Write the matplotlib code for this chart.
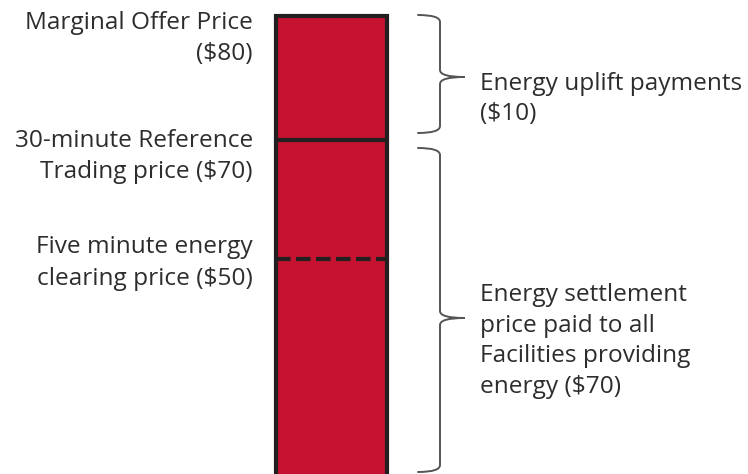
import numpy as np
import matplotlib
matplotlib.use("Agg")
import matplotlib.pyplot as plt
from matplotlib.path import Path
from matplotlib.patches import PathPatch

# ---- data ----
marginal_offer = 80
reference_price = 70
clearing_price = 50
uplift = marginal_offer - reference_price
settlement = reference_price

left_labels = ["Marginal Offer Price\n($80)",
               "30-minute Reference\nTrading price ($70)",
               "Five minute energy\nclearing price ($50)"]
right_labels = ["Energy uplift payments\n($10)",
                "Energy settlement\nprice paid to all\nFacilities providing\nenergy ($70)"]

# ---- schematic (non-linear) vertical scale: price -> pixel row ----
anchor_price = np.array([-10, 0, 50, 70, 80, 90], dtype=float)
anchor_px = np.array([524.2, 480, 259, 140, 16, -110], dtype=float)

def forward(v):
    return -np.interp(v, anchor_price, anchor_px)

def inverse(t):
    return np.interp(-np.asarray(t), anchor_px[::-1], anchor_price[::-1])

def shift(price, px):
    """price that lies px pixels below `price` on the schematic scale"""
    return float(inverse(forward(price) - px))

W, H = 748, 474
fig = plt.figure(figsize=(W / 100, H / 100), dpi=100)
ax = fig.add_axes([0, 0, 1, 1])
ax.set_yscale('function', functions=(forward, inverse))
ax.set_xlim(0, W)
ax.set_ylim(float(inverse(-H)), float(inverse(0)))
ax.axis('off')

red = '#C41230'
edge = '#231F20'
txt = '#2d2d2d'

# bar
ax.bar(331.5, marginal_offer, width=111, bottom=0, color=red,
       edgecolor=edge, linewidth=3, zorder=2)
# reference level line
ax.plot([276, 387], [reference_price, reference_price], color=edge, lw=3,
        solid_capstyle='butt', zorder=3)
# clearing price dashed line
ax.plot([276, 387], [clearing_price, clearing_price], color=edge, lw=3,
        dashes=(3.5, 1.3), dash_capstyle='butt', zorder=3)


def brace(y_top, y_bot, y_tip, x_end=418, x_v=440, x_tip=464, r=7):
    yt = forward(y_top)
    yb = forward(y_bot)
    ym = forward(y_tip)
    P = lambda x, t: (x, float(inverse(t)))
    verts = [P(x_end, yt), P(x_v, yt), P(x_v, yt - r),
             P(x_v, ym + r), P(x_v, ym), P(x_tip, ym),
             P(x_tip, ym), P(x_v, ym), P(x_v, ym - r),
             P(x_v, yb + r), P(x_v, yb), P(x_end, yb)]
    codes = [Path.MOVETO, Path.CURVE3, Path.CURVE3,
             Path.LINETO, Path.CURVE3, Path.CURVE3,
             Path.MOVETO, Path.CURVE3, Path.CURVE3,
             Path.LINETO, Path.CURVE3, Path.CURVE3]
    ax.add_patch(PathPatch(Path(verts, codes), fill=False, edgecolor='#555555',
                           lw=1.4, zorder=2, capstyle='round'))

tip_top = shift(marginal_offer, 61)
tip_bot = shift(clearing_price, 59)
brace(shift(marginal_offer, -1), shift(reference_price, -7), tip_top)
brace(shift(reference_price, 8), shift(0, -8), tip_bot)

fs = 17.6
font = ['Open Sans', 'DejaVu Sans']
left_specs = [(marginal_offer, -22.5), (reference_price, -16.5), (clearing_price, -4)]
for lab, (p, off) in zip(left_labels, left_specs):
    ax.annotate(lab, xy=(253, p), xytext=(0, off), textcoords='offset pixels',
                ha='right', va='center', fontsize=fs, color=txt,
                family=font, linespacing=1.44)

right_specs = [(tip_top, -22), (tip_bot, -23)]
for lab, (p, off) in zip(right_labels, right_specs):
    ax.annotate(lab, xy=(480, p), xytext=(0, off), textcoords='offset pixels',
                ha='left', va='center', fontsize=fs, color=txt,
                family=font, linespacing=1.38)

fig.savefig('out.png', dpi=100)
